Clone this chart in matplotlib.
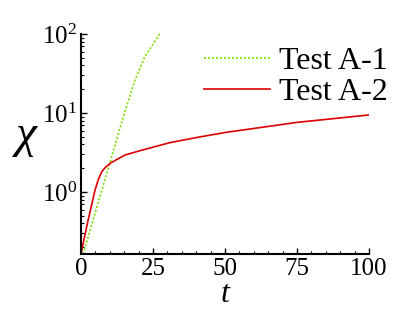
import matplotlib
matplotlib.use('Agg')
import matplotlib.pyplot as plt
from matplotlib.ticker import MultipleLocator, LogLocator, NullFormatter

plt.rcParams['font.family'] = ['Liberation Serif', 'DejaVu Serif']
plt.rcParams['mathtext.fontset'] = 'custom'
plt.rcParams['mathtext.rm'] = 'Liberation Serif'
plt.rcParams['mathtext.it'] = 'Liberation Serif:italic'
plt.rcParams['mathtext.bf'] = 'Liberation Serif:bold'

# Test A-1 (green dotted)
t_a1 = [0.8, 5, 10, 15, 18.75, 22.2, 25, 27.4]
chi_a1 = [0.164, 0.55, 2.3, 9.7, 26, 51.5, 74, 101]

# Test A-2 (red solid)
t_a2 = [0, 2.5, 4.9, 6, 7.2, 8.5, 10.5, 15.3, 20.5, 25, 30.9, 39.6, 50, 75, 100]
chi_a2 = [0.165, 0.44, 1.06, 1.42, 1.8, 2.05, 2.35, 2.94, 3.33, 3.69, 4.21, 4.85, 5.66, 7.6, 9.44]

labels = ['Test A-1', 'Test A-2']
xticks = [0, 25, 50, 75, 100]

fig = plt.figure(figsize=(4.15, 3.09), dpi=100)
ax = fig.add_axes([0.195, 0.178, 0.694, 0.712])

ax.plot(t_a1, chi_a1, color='#77dd00', linestyle=(0, (1.2, 1.2)), linewidth=1.2, label=labels[0])
ax.plot(t_a2, chi_a2, color='#dd0000', linewidth=1.2, label=labels[1])

ax.set_yscale('log')
ax.set_xlim(0, 100)
ax.set_ylim(0.164, 100)
ax.set_xticks(xticks)
ax.xaxis.set_minor_locator(MultipleLocator(5))
ax.yaxis.set_major_locator(LogLocator(base=10))
ax.yaxis.set_minor_locator(LogLocator(base=10, subs=range(2, 10)))
ax.yaxis.set_minor_formatter(NullFormatter())

for s in ['top', 'right']:
    ax.spines[s].set_visible(False)
for s in ['left', 'bottom']:
    ax.spines[s].set_linewidth(1.5)

ax.tick_params(which='major', direction='in', length=4, width=1, labelsize=18, pad=3)
ax.tick_params(which='minor', direction='in', length=2, width=0.8)
for lab in ax.get_xticklabels() + ax.get_yticklabels():
    lab.set_fontfamily('Liberation Serif')

ax.set_xlabel('t', fontsize=23, fontstyle='italic', labelpad=0)
ax.set_ylabel('χ', fontsize=34, fontstyle='italic', rotation=0)
ax.yaxis.set_label_coords(-0.19, 0.44)

fig.legend(loc='center left', bbox_to_anchor=(0.4916, 0.75), frameon=False,
           fontsize=23, handlelength=2.06, handletextpad=0.28, labelspacing=0.05,
           borderpad=0, borderaxespad=0)

fig.savefig('out.png', dpi=100)
